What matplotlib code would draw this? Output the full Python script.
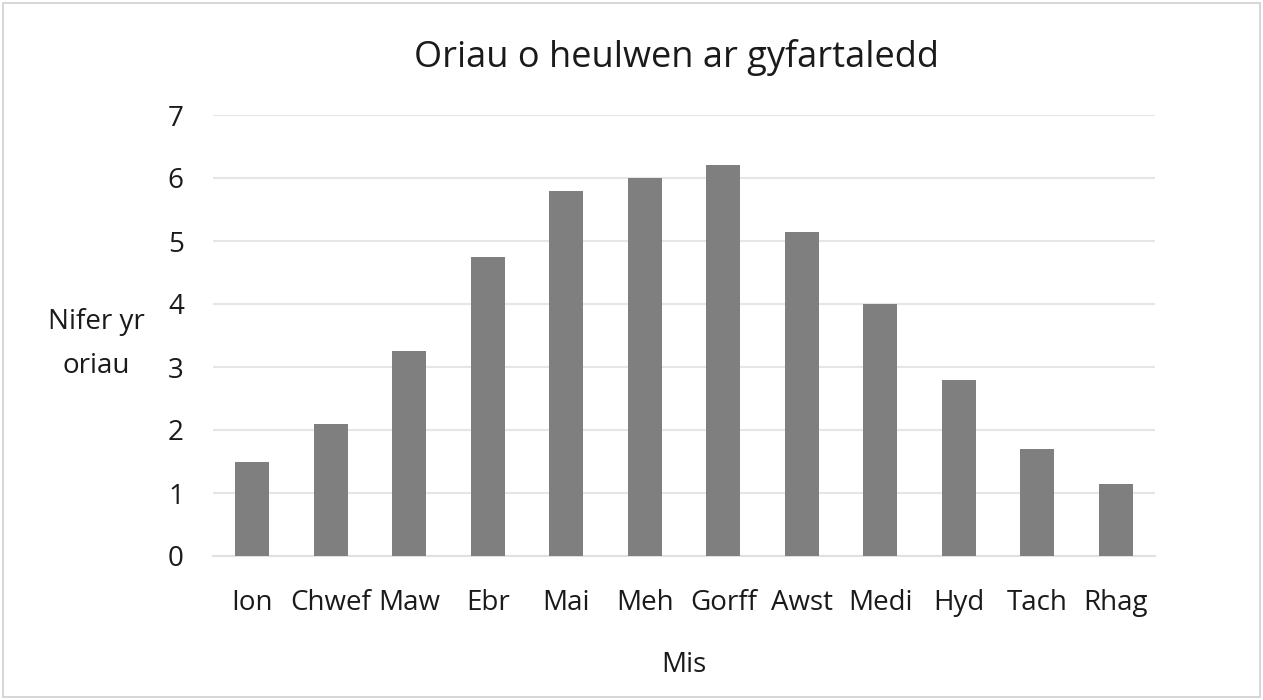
import matplotlib
matplotlib.use("Agg")
import matplotlib.pyplot as plt
from matplotlib.patches import Rectangle

months = ["Ion", "Chwef", "Maw", "Ebr", "Mai", "Meh", "Gorff", "Awst", "Medi", "Hyd", "Tach", "Rhag"]
hours = [1.5, 2.1, 3.25, 4.75, 5.8, 6.0, 6.2, 5.14, 4.0, 2.8, 1.7, 1.15]
yticks = [0, 1, 2, 3, 4, 5, 6, 7]

plt.rcParams['font.family'] = ['Open Sans', 'DejaVu Sans']

fig = plt.figure(figsize=(12.63, 7.0), dpi=100)
ax = fig.add_axes([213/1263, 1-556/700, (1155-213)/1263, (556-115)/700])

x = list(range(len(months)))
ax.bar(x, hours, width=0.43, color='#7f7f7f', zorder=3)
ax.set_xlim(-0.5, len(months)-0.5)
ax.set_ylim(0, 7)
ax.set_yticks(yticks)
ax.set_xticks(x)
ax.set_xticklabels(months)
ax.grid(axis='y', color='#e6e6e6', linewidth=1.5, zorder=0)
for s in ['top', 'right', 'left']:
    ax.spines[s].set_visible(False)
ax.spines['bottom'].set_color('#e0e0e0')
ax.spines['bottom'].set_linewidth(1.5)
ax.tick_params(axis='both', length=0, labelsize=20, colors='#1a1a1a')
ax.tick_params(axis='y', pad=21)
ax.tick_params(axis='x', pad=24)

ax.set_xlabel("Mis", fontsize=20, color='#1a1a1a', labelpad=24)
fig.text(96/1263, 1-344/700, "Nifer yr\noriau", fontsize=20, color='#1a1a1a',
         ha='center', va='center', linespacing=1.75)
fig.text(677/1263, 1-67/700, "Oriau o heulwen ar gyfartaledd", fontsize=26,
         color='#1a1a1a', ha='center', va='baseline')

fig.patches.append(Rectangle((3/1263, 3/700), 1-6/1263, 1-6/700, transform=fig.transFigure,
                             fill=False, edgecolor='#d0d0d0', linewidth=1.2))

fig.savefig("out.png", dpi=100)
